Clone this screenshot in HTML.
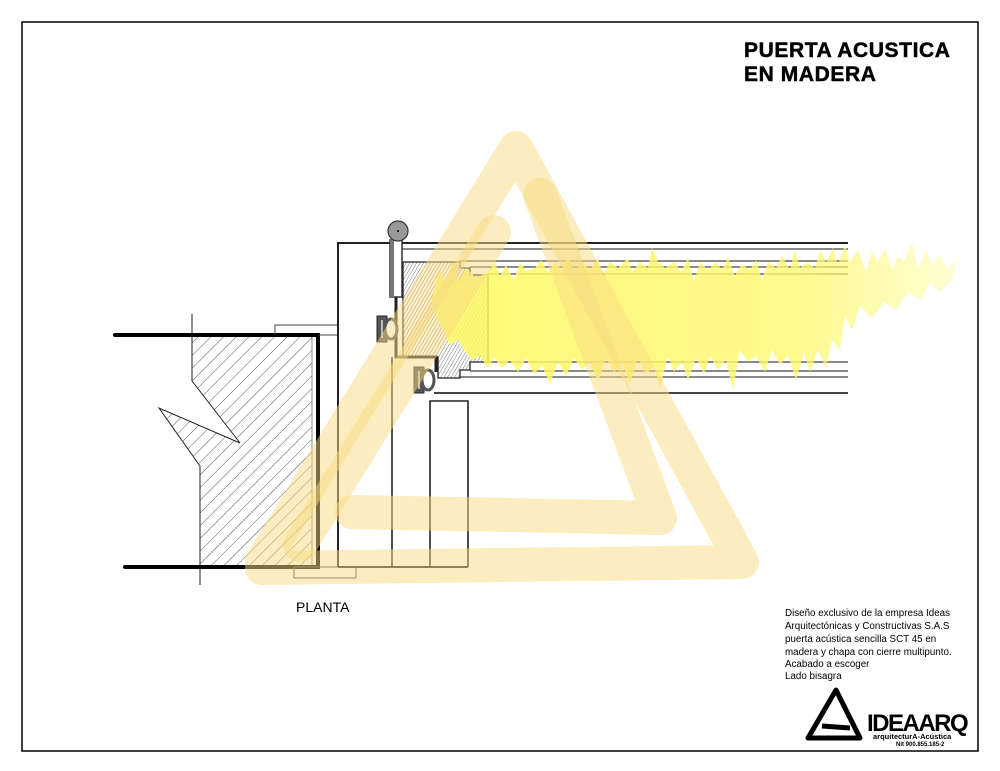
<!DOCTYPE html>
<html><head><meta charset="utf-8"><style>
html,body{margin:0;padding:0;background:#fff;}
svg{display:block;}
text{font-family:"Liberation Sans",sans-serif;}
</style></head><body>
<svg width="1000" height="771" viewBox="0 0 1000 771" xmlns="http://www.w3.org/2000/svg">
<defs>
<pattern id="h1" patternUnits="userSpaceOnUse" width="9" height="9" patternTransform="rotate(45)">
<line x1="0" y1="0" x2="0" y2="9" stroke="#555" stroke-width="1"/></pattern>
<pattern id="h2" patternUnits="userSpaceOnUse" width="3" height="3" patternTransform="rotate(30)">
<line x1="0" y1="0" x2="0" y2="3" stroke="#666" stroke-width="0.9"/></pattern>
<linearGradient id="yg" x1="0" x2="1" y1="0" y2="0">
<stop offset="0" stop-color="#fff860" stop-opacity="0.85"/>
<stop offset="0.7" stop-color="#fff870" stop-opacity="0.8"/>
<stop offset="1" stop-color="#fff880" stop-opacity="0.35"/></linearGradient>
</defs>
<rect x="22" y="22" width="956" height="729" fill="none" stroke="#000" stroke-width="1.5"/>
<g font-size="21" font-weight="bold" stroke="#000" stroke-width="0.5" letter-spacing="0.6">
<text x="744" y="57">PUERTA ACUSTICA</text>
<text x="744" y="81">EN MADERA</text>
</g>

<!-- wall -->
<path d="M192,337 L312,337 L312,567 L200,567 L200,466 L159,408 L240,443 L192,381 Z" fill="url(#h1)" stroke="none"/>
<path d="M192,314 L192,381 L240,443 L159,408 L200,466 L200,585" fill="none" stroke="#222" stroke-width="1"/>
<line x1="312" y1="337" x2="312" y2="567" stroke="#888" stroke-width="1"/>
<path d="M115,335 L318,335 L318,567 L125,567" fill="none" stroke="#000" stroke-width="4" stroke-linecap="round"/>
<path d="M275,335 L275,325 L338,325 M318,335 L338,335" fill="none" stroke="#444" stroke-width="1"/>
<rect x="294" y="567" width="62" height="11" fill="none" stroke="#444" stroke-width="1"/>

<!-- frame -->
<path d="M338,567 L338,243 L848,243" fill="none" stroke="#222" stroke-width="2"/>
<line x1="338" y1="567" x2="468" y2="567" stroke="#222" stroke-width="2"/>
<line x1="392" y1="357" x2="392" y2="567" stroke="#222" stroke-width="1.6"/>
<path d="M430,567 L430,401 L468,401 L468,567" fill="none" stroke="#222" stroke-width="1.6"/>
<g stroke="#444" stroke-width="1.2">
<line x1="402" y1="249" x2="848" y2="249"/>
<line x1="460" y1="261" x2="848" y2="261"/>
<line x1="470" y1="267" x2="848" y2="267"/>
<line x1="488" y1="274" x2="848" y2="274"/>
<line x1="488" y1="362" x2="848" y2="362"/>
<line x1="470" y1="371" x2="848" y2="371"/>
<line x1="460" y1="377" x2="848" y2="377"/>
<line x1="434" y1="393" x2="848" y2="393" stroke-width="2"/>
</g>
<!-- core -->
<path d="M403,262 L460,262 L460,268 L470,268 L470,275 L488,275 L488,362 L470,362 L470,370 L460,370 L460,378 L438,378 L438,357 L403,357 Z" fill="url(#h2)" stroke="#222" stroke-width="1.3"/>
<path d="M396,297 L396,357 L436,357 L436,372" fill="none" stroke="#222" stroke-width="3"/>
<!-- hinge stem + knob -->
<rect x="390" y="240" width="12" height="57" fill="#fff" stroke="#333" stroke-width="1.5"/>
<rect x="390" y="240" width="4" height="57" fill="#777"/>
<circle cx="398" cy="231" r="10" fill="#999" stroke="#333" stroke-width="1.2"/>
<circle cx="398" cy="231" r="1" fill="#000"/>
<!-- gaskets -->
<rect x="377" y="316" width="10" height="26" fill="#555" stroke="#222"/>
<line x1="382" y1="320" x2="382" y2="338" stroke="#ddd" stroke-width="1.5"/>
<ellipse cx="391" cy="329" rx="6" ry="10" fill="#fff" stroke="#555" stroke-width="3"/>
<rect x="414" y="367" width="10" height="26" fill="#555" stroke="#222"/>
<line x1="419" y1="371" x2="419" y2="389" stroke="#ddd" stroke-width="1.5"/>
<ellipse cx="428" cy="380" rx="6" ry="10" fill="#fff" stroke="#555" stroke-width="3"/>

<!-- yellow noise -->
<path d="M435,285 L440,270 L446,284 L452,262 L458,282 L466,268 L476,278 L488,272 L495,262 L500,276 L506,265 L514,280 L520,262 L526,271 L535,268 L541,260 L548,272 L555,262 L562,270 L568,256 L574,272 L582,262 L590,270 L598,258 L603,275 L610,262 L618,268 L628,258 L632,272 L640,262 L648,268 L652,248 L658,262 L665,268 L675,262 L681,272 L688,258 L694,282 L700,262 L708,270 L716,262 L722,270 L728,258 L735,276 L742,264 L750,270 L756,260 L762,280 L768,262 L776,268 L782,256 L790,270 L795,250 L800,268 L807,262 L815,268 L820,250 L826,262 L833,248 L838,265 L845,244 L850,262 L858,250 L866,272 L872,252 L878,262 L885,248 L892,270 L898,256 L904,262 L912,242 L918,270 L926,250 L932,265 L940,255 L948,270 L957,258 L952,280 L940,292 L930,283 L920,300 L908,292 L896,310 L884,302 L872,318 L860,306 L852,330 L845,316 L840,350 L832,340 L826,368 L818,350 L810,372 L804,352 L796,380 L788,355 L780,365 L772,350 L765,372 L756,356 L748,362 L740,350 L733,390 L726,360 L718,370 L710,356 L704,374 L696,358 L688,380 L682,362 L674,372 L668,356 L660,388 L654,366 L646,374 L638,358 L630,384 L622,364 L614,372 L606,358 L598,382 L590,362 L582,370 L574,358 L566,376 L558,362 L550,384 L542,366 L534,374 L526,358 L518,372 L510,360 L502,368 L494,358 L488,368 L480,356 L472,360 L464,350 L458,340 L450,345 L444,330 L438,320 L432,300 Z" fill="url(#yg)"/>

<!-- triangle watermark -->
<g fill="none" stroke="#f7dc80" stroke-opacity="0.5" stroke-width="34" stroke-linecap="round" stroke-linejoin="round">
<path d="M262,562 L516,148 L742,562 L262,568"/>
<path d="M352,512 L660,518 L540,195"/>
<path d="M494,232 L300,545"/>
</g>

<text x="296" y="612" font-size="14">PLANTA</text>
<g font-size="9.8">
<text x="785" y="616">Diseño exclusivo de la empresa Ideas</text>
<text x="785" y="629">Arquitectónicas y Constructivas S.A.S</text>
<text x="785" y="642">puerta acústica sencilla SCT 45 en</text>
<text x="785" y="655">madera y chapa con cierre multipunto.</text>
<text x="785" y="667">Acabado a escoger</text>
<text x="785" y="679">Lado bisagra</text>
</g>
<!-- logo -->
<g fill="none" stroke="#000" stroke-width="5" stroke-linejoin="round">
<path d="M808,738 L836,690 L860,738 Z"/>
<path d="M822,726 L850,728"/>
</g>
<text x="867" y="731" font-size="24" font-weight="bold" letter-spacing="-1.5">IDEAARQ</text>
<text x="873" y="739" font-size="7.5" font-weight="bold">arquitecturA-Acústica</text>
<text x="896" y="746" font-size="6" font-weight="bold">Nit 900.855.185-2</text>
</svg>
</body></html>
